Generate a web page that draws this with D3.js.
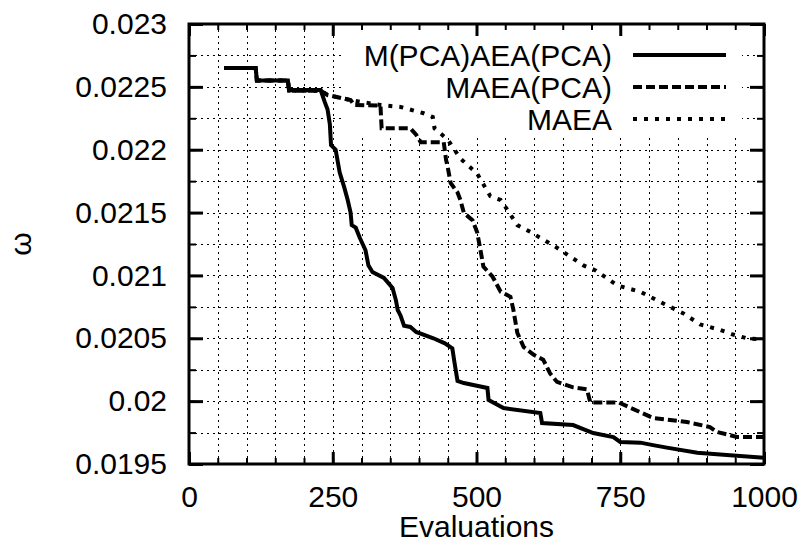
<!DOCTYPE html>
<html>
<head>
<meta charset="utf-8">
<script src="https://cdn.jsdelivr.net/npm/d3@7"></script>
<style>
  html, body { margin: 0; padding: 0; background: #fff; }
  text { font-family: "Liberation Sans", Arial, Helvetica, sans-serif; fill: #000; }
</style>
</head>
<body>
<svg id="visualization" width="806" height="559"></svg>
<script>
// evaluations / omega
const seriesNames = ["M(PCA)AEA(PCA)", "MAEA(PCA)", "MAEA"];
const dashes = ["none", "9,4", "4,7"];

const pcaPcaEvals = [61, 116, 118, 172, 174, 229, 236, 241, 245, 247, 255, 262, 270, 276, 281, 283, 290, 297, 307, 312, 319, 339, 354, 360, 363, 368, 374, 385, 395, 425, 445, 458, 462, 467, 478, 519, 521, 547, 611, 614, 668, 703, 738, 750, 785, 807, 831, 884, 941, 1000];
const pcaPcaOmega = [0.02265, 0.02265, 0.02255, 0.02255, 0.022475, 0.022475, 0.02238, 0.02232, 0.0222, 0.022037, 0.022, 0.02182, 0.0217, 0.0216, 0.0215, 0.0214, 0.02138, 0.0213, 0.0212, 0.02108, 0.021027, 0.02098, 0.0209, 0.0208, 0.020725, 0.02068, 0.0206, 0.02059, 0.02055, 0.0205, 0.02046, 0.02042, 0.0203, 0.02016, 0.020144, 0.020105, 0.02001, 0.019945, 0.019906, 0.019826, 0.01981, 0.019746, 0.019714, 0.019675, 0.01967, 0.01965, 0.01963, 0.01959, 0.01957, 0.01955];

const maeaPcaEvals = [61, 116, 118, 172, 174, 229, 241, 281, 287, 333, 335, 385, 395, 403, 443, 447, 450, 455, 467, 472, 478, 493, 501, 507, 512, 528, 542, 559, 564, 571, 582, 599, 616, 628, 640, 668, 692, 698, 747, 807, 866, 906, 918, 953, 1000];
const maeaPcaOmega = [0.02265, 0.02265, 0.02255, 0.02255, 0.02247, 0.02247, 0.022435, 0.022395, 0.022356, 0.02235, 0.02217, 0.02217, 0.02212, 0.02206, 0.02206, 0.02192, 0.02186, 0.021735, 0.02166, 0.0216, 0.021497, 0.02144, 0.021346, 0.0212, 0.02107, 0.02099, 0.02087, 0.02083, 0.02073, 0.020543, 0.02043, 0.02037, 0.02033, 0.02022, 0.020153, 0.02011, 0.020095, 0.01999, 0.01999, 0.019866, 0.019834, 0.019794, 0.019755, 0.019715, 0.019715];

const maeaEvals = [61, 116, 118, 172, 174, 229, 241, 281, 300, 333, 368, 408, 424, 427, 450, 472, 501, 524, 542, 554, 571, 594, 640, 686, 707, 745, 785, 819, 859, 889, 924, 946, 970, 1000];
const maeaOmega = [0.02265, 0.02265, 0.02255, 0.02255, 0.02247, 0.02247, 0.022435, 0.022395, 0.02238, 0.022356, 0.02234, 0.02229, 0.02226, 0.02217, 0.02208, 0.02193, 0.02181, 0.02163, 0.0216, 0.02152, 0.0214, 0.021345, 0.02122, 0.02108, 0.02104, 0.02092, 0.02087, 0.02079, 0.0207, 0.02061, 0.020566, 0.02053, 0.0205, 0.02049];

const xMajorTicks = [0, 250, 500, 750, 1000];
const xMinorTicks = d3.range(0, 1001, 50);
const yMajorTicks = [0.023, 0.0225, 0.022, 0.0215, 0.021, 0.0205, 0.02, 0.0195];
const yMinorTicks = d3.range(0, 15).map(i => 0.0195 + i * 0.00025);
const yTickLabels = ["0.023", "0.0225", "0.022", "0.0215", "0.021", "0.0205", "0.02", "0.0195"];

const margin = { top: 24, right: 42, bottom: 95, left: 189 };
const width = 806 - margin.left - margin.right;
const height = 559 - margin.top - margin.bottom;

const svg = d3.select("#visualization");
svg.append("rect").attr("width", 806).attr("height", 559).attr("fill", "#fff");
const g = svg.append("g").attr("transform", `translate(${margin.left},${margin.top})`);

const x = d3.scaleLinear().domain([0, 1000]).range([0, width]);
const y = d3.scaleLinear().domain([0.0195, 0.023]).range([height, 0]);

// grid
const grid = g.append("g").attr("class", "grid")
    .attr("stroke", "#000").attr("stroke-width", 1).attr("stroke-dasharray", "2,4")
    .attr("shape-rendering", "crispEdges");
grid.selectAll(".gx")
    .data(xMinorTicks.filter(d => d > 0 && d < 1000))
    .join("line")
    .attr("x1", d => Math.round(x(d)) + 0.5).attr("x2", d => Math.round(x(d)) + 0.5)
    .attr("y1", 0).attr("y2", height);
grid.selectAll(".gy")
    .data(yMinorTicks.filter(d => d > 0.0195 + 1e-9 && d < 0.023 - 1e-9))
    .join("line")
    .attr("x1", 0).attr("x2", width)
    .attr("y1", d => Math.round(y(d)) + 0.5).attr("y2", d => Math.round(y(d)) + 0.5);

// key area hides the grid
g.append("rect")
    .attr("x", 155).attr("y", 2)
    .attr("width", 398).attr("height", 109)
    .attr("fill", "#fff");

// axes, ticks pointing inward
const addAxis = (axis, transform, sw) => {
    const a = g.append("g").attr("transform", transform).call(axis);
    a.select(".domain").remove();
    a.selectAll("line").attr("stroke", "#000").attr("stroke-width", sw);
    a.selectAll("text").attr("font-size", 30).attr("font-family", "Liberation Sans, Arial, sans-serif");
    return a;
};

addAxis(d3.axisBottom(x).tickValues(xMinorTicks).tickSize(-6).tickFormat(""), `translate(0,${height})`, 2);
addAxis(d3.axisTop(x).tickValues(xMinorTicks).tickSize(-6).tickFormat(""), "translate(0,0)", 2);
addAxis(d3.axisBottom(x).tickValues(xMajorTicks).tickSize(-12).tickPadding(22).tickFormat(d3.format("d")), `translate(0,${height})`, 3);
addAxis(d3.axisTop(x).tickValues(xMajorTicks).tickSize(-12).tickFormat(""), "translate(0,0)", 3);

addAxis(d3.axisLeft(y).tickValues(yMinorTicks).tickSize(-7).tickFormat(""), "translate(0,0)", 2);
addAxis(d3.axisRight(y).tickValues(yMinorTicks).tickSize(-7).tickFormat(""), `translate(${width},0)`, 2);
addAxis(d3.axisLeft(y).tickValues(yMajorTicks).tickSize(-14).tickPadding(22).tickFormat((d, i) => yTickLabels[i]), "translate(0,0)", 3);
addAxis(d3.axisRight(y).tickValues(yMajorTicks).tickSize(-14).tickFormat(""), `translate(${width},0)`, 3);

// curves
const series = [
    { evals: pcaPcaEvals, omega: pcaPcaOmega },
    { evals: maeaPcaEvals, omega: maeaPcaOmega },
    { evals: maeaEvals, omega: maeaOmega }
];
const line = d3.line().x(d => x(d[0])).y(d => y(d[1]));

g.selectAll(".curve")
    .data(series.slice().reverse())
    .join("path")
    .attr("class", "curve")
    .attr("fill", "none")
    .attr("stroke", "#000")
    .attr("stroke-width", 4)
    .attr("stroke-dasharray", (_, i) => dashes[2 - i])
    .attr("d", d => line(d.evals.map((e, i) => [e, d.omega[i]])));

// legend
const legend = g.append("g").attr("class", "legend");
legend.selectAll("text")
    .data(seriesNames)
    .join("text")
    .attr("x", 423)
    .attr("y", (_, i) => 31 + i * 32)
    .attr("dy", "0.35em")
    .attr("text-anchor", "end")
    .attr("font-size", 30)
    .text(d => d);
legend.selectAll("line")
    .data(seriesNames)
    .join("line")
    .attr("x1", 444).attr("x2", 537)
    .attr("y1", (_, i) => 31 + i * 32).attr("y2", (_, i) => 31 + i * 32)
    .attr("stroke", "#000")
    .attr("stroke-width", 4)
    .attr("stroke-dasharray", (_, i) => dashes[i]);

// frame
g.append("rect")
    .attr("width", width).attr("height", height)
    .attr("fill", "none").attr("stroke", "#000").attr("stroke-width", 3);

// axis titles
svg.append("text")
    .attr("x", margin.left + width / 2)
    .attr("y", 537)
    .attr("text-anchor", "middle")
    .attr("font-size", 30)
    .text("Evaluations");

svg.append("text")
    .attr("transform", `translate(20,${margin.top + height / 2})rotate(-90)`)
    .attr("dy", "0.35em")
    .attr("text-anchor", "middle")
    .attr("font-size", 30)
    .text("ω");
</script>
</body>
</html>
